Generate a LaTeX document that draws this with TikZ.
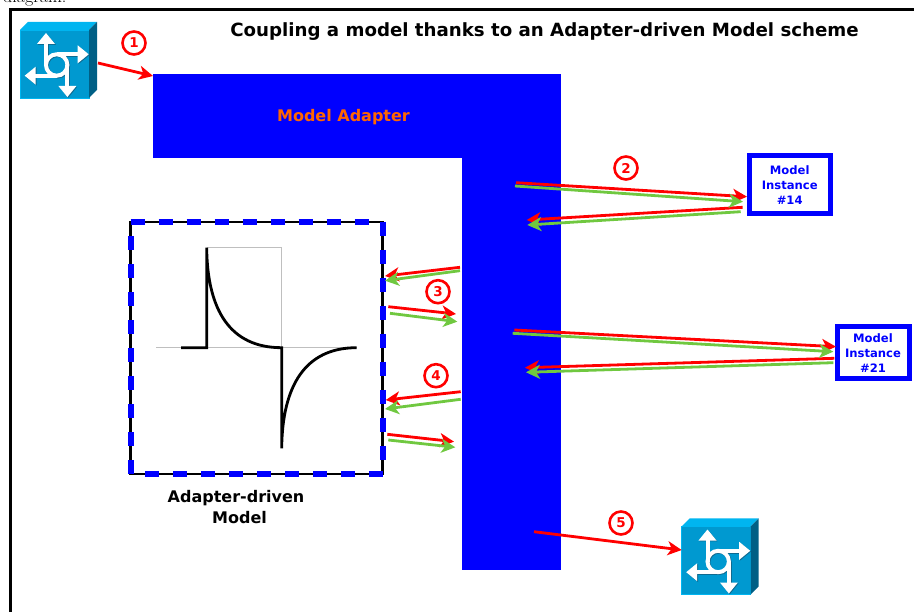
\documentclass[tikz,border=0pt]{standalone}
\usepackage{fontspec}
\usepackage{tikz}
\usetikzlibrary{arrows.meta,positioning}
\newfontfamily\labelfont{DejaVu Sans}
\definecolor{routerfront}{HTML}{0099D0}
\definecolor{routertop}{HTML}{00B5F0}
\definecolor{routerside}{HTML}{005F85}
\definecolor{routershadow}{HTML}{0F6A90}
\definecolor{msggreen}{HTML}{70C840}
\definecolor{titleorange}{HTML}{FF6600}
\tikzset{
  routerbox/.style={fill=routerfront,draw=routertop,line width=.4pt,outer sep=0pt,inner sep=0pt,minimum width=69pt,minimum height=68pt},
  adapterbox/.style={fill=blue,outer sep=0pt,inner sep=0pt},
  instancebox/.style={draw=blue,fill=white,line width=5pt,inner sep=0pt,outer sep=0pt,align=center,text=blue,font=\labelfont\bfseries\fontsize{11.6}{15}\selectfont},
  stepmark/.style={circle,draw=red,fill=white,line width=2.6pt,inner sep=0pt,minimum size=23pt,text=red,font=\labelfont\bfseries\fontsize{13.5}{13.5}\selectfont},
  redmsg/.style={-{Stealth[length=14pt,width=14pt,inset=4pt]},draw=red,line width=2.8pt},
  greenmsg/.style={-{Stealth[length=14pt,width=14pt,inset=4pt]},draw=msggreen,line width=2.8pt},
  router/.pic={
    \fill[routertop] (0,0) -- (8,-8) -- (77,-8) -- (69,0) -- cycle;
    \fill[routerside] (69,0) -- (77,-8) -- (77,60) -- (69,68) -- cycle;
    \foreach \col/\off in {routershadow/.8,white/0}{
      \begin{scope}[shift={(\off,\off)},\col]
        \draw[line width=4pt] (36.7,35) circle (10.7pt);
        \foreach \ang in {0,-90,-180,-270}{
          \begin{scope}[rotate around={\ang:(36.7,35)}]
            \draw[line width=4pt] (26,35) -- (26,13);
            \fill (26,3) -- (35,14) -- (17,14) -- cycle;
          \end{scope}
        }
      \end{scope}
    }
  }
}
\begin{document}
\begin{tikzpicture}[x=1pt,y=-1pt]
  \useasboundingbox (0,0) rectangle (914,612);
  \node [anchor=base east,font=\fontsize{18}{18}\selectfont] (pagetext) at (70,2.5) {diagram:};
  \draw [line width=2.8pt] (10.4,630) -- (10.4,9.5) -- (930,9.5);
  \node [anchor=center,font=\labelfont\bfseries\fontsize{18.2}{22}\selectfont] (title) at (544.5,31.5) {Coupling a model thanks to an Adapter-driven Model scheme};

  \node [routerbox] (router1) at (54.5,64) {};
  \pic at (router1.north west) {router};
  \node [routerbox] (router2) at (716,560.5) {};
  \pic at (router2.north west) {router};

  \node [adapterbox,minimum width=408pt,minimum height=84pt] (adapter) at (357,116) {};
  \node [adapterbox,minimum width=99pt,minimum height=412pt] (adapterleg) at (511.5,364) {};
  \node [text=titleorange,font=\labelfont\bfseries\fontsize{16}{18}\selectfont] (adapterlabel) at (343.5,117.5) {Model Adapter};

  \node [instancebox,minimum width=81pt,minimum height=58pt] (instance14) at (789.7,185) {Model\\Instance\\\#14};
  \node [instancebox,minimum width=72pt,minimum height=52pt] (instance21) at (873,352.7) {Model\\Instance\\\#21};

  \node [draw=black,fill=white,line width=2.5pt,inner sep=0pt,outer sep=0pt,minimum width=252pt,minimum height=252pt] (model) at (256.5,348) {};
  \draw [blue,line width=6pt,dash pattern=on 14pt off 14pt] (model.north west) -- (model.north east) -- (model.south east) -- (model.south west) -- cycle;
  \draw [black!25,line width=1.5pt] (156,347.7) -- (356.7,347.7) (206.7,247.7) -- (281.7,247.7) -- (281.7,347.7);
  \draw [line width=2.8pt] (181,347.7) -- (206.7,347.7) -- (206.7,247.7) .. controls (207.3,310) and (230,347.7) .. (281.7,347.7)
        -- (281.7,448.3) .. controls (282.3,386) and (305,347.7) .. (356.7,347.7);
  \node [align=center,font=\labelfont\bfseries\fontsize{16}{21}\selectfont] (modellabel) at (236,507) {Adapter-driven\\\hspace*{7pt}Model};

  \node [stepmark] (step1) at (134,43) {1};
  \node [stepmark] (step2) at (626,168) {2};
  \node [stepmark] (step3) at (438,291.7) {3};
  \node [stepmark] (step4) at (436,375.7) {4};
  \node [stepmark] (step5) at (621,523) {5};

  \foreach \id/\xa/\ya/\xb/\yb in {
      go14/516/182.7/747/196.7, back14/742.7/207.3/526.7/220,
      go21/514.3/330/836/346.7, back21/834.3/358.3/525/367.7,
      outa/460/267.3/385/276, ina/388.3/306.7/456/314,
      outb/460.7/391.7/385.7/400, inb/387.3/434.3/454/441.7,
      enter/98/63/153/76, leave/534/531.7/681.7/550}{
    \coordinate (\id from) at (\xa,\ya);
    \coordinate (\id to) at (\xb,\yb);
    \draw [redmsg] (\id from) -- (\id to);
  }
  \foreach \id/\xa/\ya/\xb/\yb in {
      go14/515/186/743/201.7, back14/740.7/211.7/527.3/225,
      go21/512.7/333.3/833.3/351.7, back21/833.3/362.7/526/372.3,
      outa/460/270.7/385/280.7, ina/390/313.3/457.3/321.7,
      outb/460.7/399.3/385/409, inb/388.3/440/455.3/447.3}{
    \coordinate (\id reply from) at (\xa,\ya);
    \coordinate (\id reply to) at (\xb,\yb);
    \draw [greenmsg] (\id reply from) -- (\id reply to);
  }
\end{tikzpicture}
\end{document}
